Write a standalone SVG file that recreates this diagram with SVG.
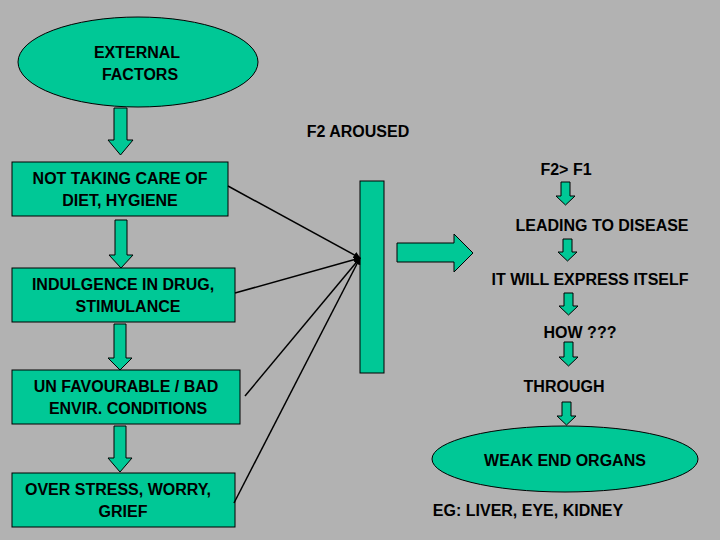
<svg xmlns="http://www.w3.org/2000/svg" width="720" height="540" viewBox="0 0 720 540">
<defs>
<style>
.s{fill:#00C896;stroke:#000;stroke-width:1}
.t{font-family:"Liberation Sans",Arial,sans-serif;font-weight:bold;font-size:16px;fill:#000;text-anchor:middle}
.c{stroke:#000;stroke-width:1.5;fill:none;marker-end:url(#ah)}
</style>
<marker id="ah" viewBox="0 0 10 10" refX="9" refY="5" markerWidth="7" markerHeight="7" orient="auto" markerUnits="userSpaceOnUse"><path d="M0,0L10,5L0,10z" fill="#000"/></marker>
</defs>
<rect width="720" height="540" fill="#B2B2B2"/>
<g id="ext"><ellipse class="s" cx="138" cy="62" rx="120" ry="45"/><text class="t" x="137" y="58">EXTERNAL</text><text class="t" x="140" y="80">FACTORS</text></g>
<g id="a1"><path class="s" d="M114,108H127V140H133L120.5,155L108,140H114Z"/></g>
<g id="b1"><rect class="s" x="12" y="162" width="216" height="54"/><text class="t" x="120" y="184">NOT TAKING CARE OF</text><text class="t" x="120" y="206">DIET,  HYGIENE</text></g>
<g id="a2"><path class="s" d="M115,220H127V255H133L121,268L109,255H115Z"/></g>
<g id="b2"><rect class="s" x="12" y="268" width="223" height="54"/><text class="t" x="123" y="290">INDULGENCE IN DRUG,</text><text class="t" x="128" y="312">STIMULANCE</text></g>
<g id="a3"><path class="s" d="M114,324H126V358H132L120,370L108,358H114Z"/></g>
<g id="b3"><rect class="s" x="12" y="370" width="228" height="54"/><text class="t" x="126" y="392">UN FAVOURABLE / BAD</text><text class="t" x="128" y="414">ENVIR. CONDITIONS</text></g>
<g id="a4"><path class="s" d="M114,426H126V458H132L120,472L108,458H114Z"/></g>
<g id="b4"><rect class="s" x="12" y="473" width="223" height="54"/><text class="t" x="118" y="495">OVER STRESS, WORRY,</text><text class="t" x="123" y="517">GRIEF</text></g>
<g id="bar"><rect class="s" x="360" y="181" width="24" height="192"/></g>
<g id="connectors">
<line class="c" x1="228" y1="186" x2="360" y2="258"/>
<line class="c" x1="235" y1="293" x2="360" y2="258"/>
<line class="c" x1="245" y1="396" x2="360" y2="258"/>
<line class="c" x1="234" y1="503" x2="360" y2="258"/>
</g>
<g id="big"><path class="s" d="M397,243H454V234L473,253L454,272V262H397Z"/></g>
<text class="t" x="358" y="137">F2 AROUSED</text>
<g id="r1"><text class="t" x="566" y="175">F2&gt; F1</text><path class="s" d="M561,182H570V196H575L565.5,205L556,196H561Z"/></g>
<g id="r2"><text class="t" x="602" y="231">LEADING TO DISEASE</text><path class="s" d="M563,239H572V252H577L567.5,261L558,252H563Z"/></g>
<g id="r3"><text class="t" x="590" y="285">IT WILL EXPRESS ITSELF</text><path class="s" d="M564,293H573V306H578L568.5,315L559,306H564Z"/></g>
<g id="r4"><text class="t" x="580" y="338">HOW  ???</text><path class="s" d="M564,342H573V357H578L568.5,366L559,357H564Z"/></g>
<g id="r5"><text class="t" x="564" y="392">THROUGH</text><path class="s" d="M562,402H571V416H576L566.5,425L557,416H562Z"/></g>
<g id="weak"><ellipse class="s" cx="565" cy="459" rx="133" ry="33"/><text class="t" x="565" y="466">WEAK END ORGANS</text></g>
<text class="t" x="528" y="516">EG: LIVER, EYE, KIDNEY</text>
</svg>
